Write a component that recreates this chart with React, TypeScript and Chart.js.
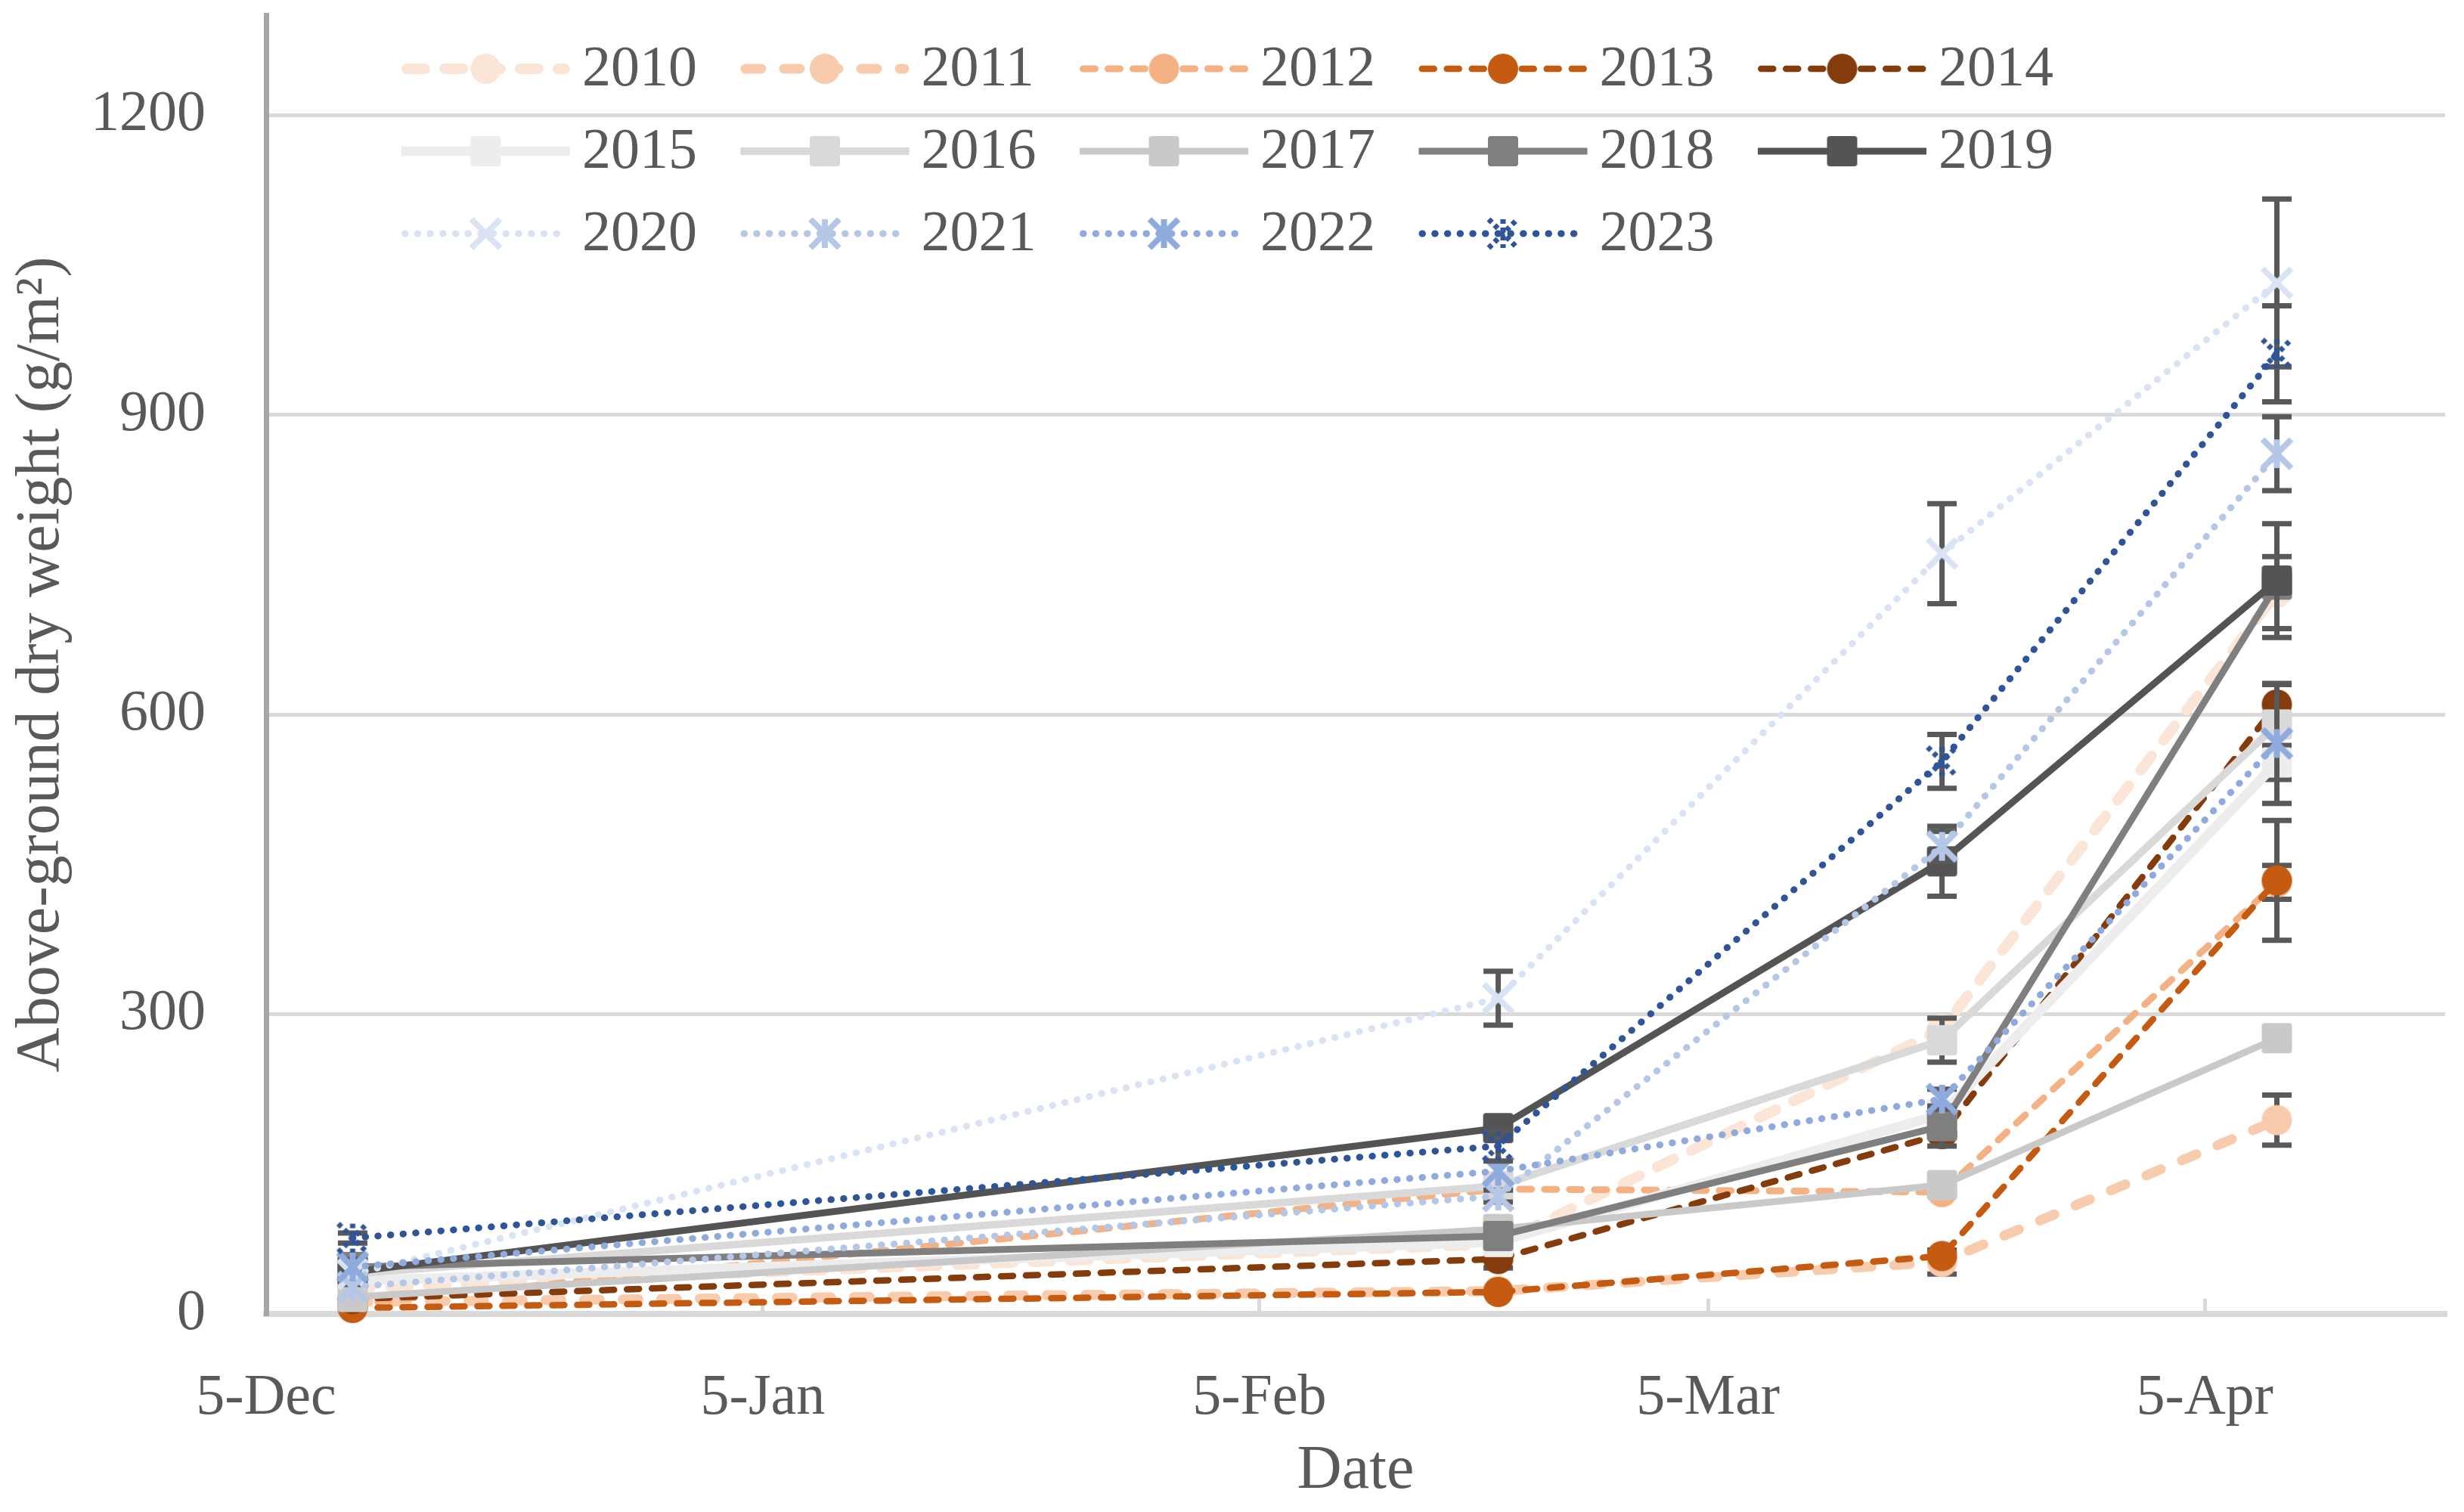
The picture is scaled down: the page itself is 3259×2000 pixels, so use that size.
import React, { useEffect, useRef } from 'react';
import { Chart, registerables } from 'chart.js';

Chart.register(...registerables);

// ---------- data ----------
const YEARS = ['2010', '2011', '2012', '2013', '2014', '2015', '2016', '2017', '2018', '2019', '2020', '2021', '2022', '2023'];

// x axis: days after 5-Dec
const TICK_DAYS = [0, 31, 62, 90, 121];
const TICK_LABELS = ['5-Dec', '5-Jan', '5-Feb', '5-Mar', '5-Apr'];
const SAMPLE_DAYS = [5.4, 76.9, 104.6, 125.5];
const Y_TICKS = [0, 300, 600, 900, 1200];

// above-ground dry weight (g/m2) at the four sampling dates
const W2010 = [26, 70, 285, 722];
const W2011 = [12, 23, 52, 194];
const W2012 = [10, 125, 122, 432];
const W2013 = [6, 22, 58, 434];
const W2014 = [15, 55, 180, 610];
const W2015 = [33, 72, 200, 552];
const W2016 = [40, 128, 274, 590];
const W2017 = [17, 85, 129, 276];
const W2018 = [47, 78, 188, 730];
const W2019 = [42, 186, 453, 734];
const W2020 = [40, 316, 761, 1032];
const W2021 = [27, 118, 468, 861];
const W2022 = [47, 143, 215, 571];
const W2023 = [76, 168, 553, 961];

// error bar half-lengths
const E2010 = [0, 0, 0, 36];
const E2011 = [0, 0, 12, 25];
const E2012 = [0, 0, 0, 17];
const E2013 = [0, 0, 0, 60];
const E2014 = [0, 9, 0, 20];
const E2015 = [0, 0, 0, 17];
const E2016 = [0, 0, 22, 0];
const E2017 = [0, 0, 0, 0];
const E2018 = [0, 0, 20, 0];
const E2019 = [0, 0, 35, 57];
const E2020 = [0, 27, 50, 84];
const E2021 = [0, 6, 15, 37];
const E2022 = [0, 0, 10, 60];
const E2023 = [5, 15, 27, 48];

const SERIES_VALUES = [W2010, W2011, W2012, W2013, W2014, W2015, W2016, W2017, W2018, W2019, W2020, W2021, W2022, W2023];
const SERIES_ERRORS = [E2010, E2011, E2012, E2013, E2014, E2015, E2016, E2017, E2018, E2019, E2020, E2021, E2022, E2023];

// ---------- styles ----------
type Marker = 'circle' | 'square' | 'x' | 'asterisk' | 'dotted';
interface SeriesStyle { color: string; width: number; dash: number[]; cap: CanvasLineCap; marker: Marker; }
const DOT = [0.5, 16.2];
const STYLES: SeriesStyle[] = [
  { color: '#FBE5D6', width: 14, dash: [24, 26], cap: 'round', marker: 'circle' },
  { color: '#F8CBAD', width: 13, dash: [21, 30], cap: 'round', marker: 'circle' },
  { color: '#F4B183', width: 9, dash: [16, 17], cap: 'round', marker: 'circle' },
  { color: '#C55A11', width: 8.5, dash: [16, 17], cap: 'round', marker: 'circle' },
  { color: '#843C0C', width: 8.5, dash: [16, 17], cap: 'round', marker: 'circle' },
  { color: '#EDEDED', width: 13, dash: [], cap: 'butt', marker: 'square' },
  { color: '#D9D9D9', width: 10, dash: [], cap: 'butt', marker: 'square' },
  { color: '#C9C9C9', width: 9, dash: [], cap: 'butt', marker: 'square' },
  { color: '#7F7F7F', width: 9, dash: [], cap: 'butt', marker: 'square' },
  { color: '#545454', width: 9, dash: [], cap: 'butt', marker: 'square' },
  { color: '#DAE3F3', width: 9, dash: DOT, cap: 'round', marker: 'x' },
  { color: '#B4C7E7', width: 9, dash: DOT, cap: 'round', marker: 'asterisk' },
  { color: '#8FAADC', width: 9, dash: DOT, cap: 'round', marker: 'asterisk' },
  { color: '#2F5597', width: 9, dash: DOT, cap: 'round', marker: 'dotted' },
];

const FONT_FAMILY = '"Liberation Serif", "DejaVu Serif", serif';
const TEXT_COLOR = '#595959';
const GRID_COLOR = '#D9D9D9';

function makeMarker(kind: Marker, color: string): HTMLCanvasElement {
  const c = document.createElement('canvas');
  c.width = 48;
  c.height = 48;
  const g = c.getContext('2d') as CanvasRenderingContext2D;
  g.translate(24, 24);
  g.fillStyle = color;
  g.strokeStyle = color;
  if (kind === 'circle') {
    g.beginPath();
    g.arc(0, 0, 20, 0, Math.PI * 2);
    g.fill();
  } else if (kind === 'square') {
    g.beginPath();
    if ((g as any).roundRect) (g as any).roundRect(-20, -20, 40, 40, 4);
    else g.rect(-20, -20, 40, 40);
    g.fill();
  } else {
    const r = 19;
    g.lineWidth = kind === 'dotted' ? 7 : 8;
    g.lineCap = 'butt';
    if (kind === 'dotted') g.setLineDash([6, 5]);
    g.beginPath();
    g.moveTo(-r, -r); g.lineTo(r, r);
    g.moveTo(-r, r); g.lineTo(r, -r);
    if (kind !== 'x') { g.moveTo(0, -r); g.lineTo(0, r); }
    g.stroke();
  }
  return c;
}

// legend layout (relative to the chart area)
const LEG_X0 = 179;
const LEG_PITCH = 448.5;
const LEG_Y0 = 71;
const LEG_ROW = 109;
const LEG_LINE = 223;
const LEG_TEXT_GAP = 239;

export default function App() {
  const ref = useRef<HTMLCanvasElement>(null);

  useEffect(() => {
    const markers = STYLES.map((s) => makeMarker(s.marker, s.color));

    const datasets = YEARS.map((year, i) => {
      const st = STYLES[i];
      return {
        label: year,
        data: SAMPLE_DAYS.map((d, j) => ({ x: d, y: SERIES_VALUES[i][j] })),
        borderColor: st.color,
        backgroundColor: st.color,
        borderWidth: st.width,
        borderDash: st.dash,
        borderCapStyle: st.cap,
        borderJoinStyle: 'round' as CanvasLineJoin,
        tension: 0,
        pointStyle: markers[i],
        pointRadius: 20,
        pointHoverRadius: 20,
        pointBorderWidth: 0,
        order: YEARS.length - 1 - i,
        clip: false as any,
      };
    });

    const errorBarPlugin = {
      id: 'errorBars',
      beforeDatasetDraw(chart: any, args: any) {
        const i = args.index;
        const meta = args.meta;
        const errs = SERIES_ERRORS[i];
        const vals = SERIES_VALUES[i];
        const ys = chart.scales.y;
        const ctx = chart.ctx as CanvasRenderingContext2D;
        ctx.save();
        ctx.strokeStyle = '#595959';
        ctx.lineWidth = 7;
        ctx.lineCap = 'butt';
        ctx.setLineDash([]);
        meta.data.forEach((pt: any, j: number) => {
          const e = errs[j];
          if (!e) return;
          const x = pt.x;
          const top = ys.getPixelForValue(vals[j] + e);
          const bot = ys.getPixelForValue(vals[j] - e);
          ctx.beginPath();
          ctx.moveTo(x, top); ctx.lineTo(x, bot);
          ctx.moveTo(x - 19.5, top); ctx.lineTo(x + 19.5, top);
          ctx.moveTo(x - 19.5, bot); ctx.lineTo(x + 19.5, bot);
          ctx.stroke();
        });
        ctx.restore();
      },
    };

    const legendPlugin = {
      id: 'excelLegend',
      afterDraw(chart: any) {
        const ctx = chart.ctx as CanvasRenderingContext2D;
        const area = chart.chartArea;
        YEARS.forEach((year, i) => {
          const st = STYLES[i];
          const col = i % 5;
          const row = Math.floor(i / 5);
          const x0 = area.left + LEG_X0 + col * LEG_PITCH;
          const yc = area.top + LEG_Y0 + row * LEG_ROW;
          ctx.save();
          ctx.strokeStyle = st.color;
          ctx.lineWidth = st.width;
          ctx.lineCap = st.cap;
          ctx.setLineDash(st.dash);
          ctx.beginPath();
          ctx.moveTo(x0 + (st.cap === 'round' ? st.width / 2 : 0), yc);
          ctx.lineTo(x0 + LEG_LINE - (st.cap === 'round' ? st.width / 2 : 0), yc);
          ctx.stroke();
          ctx.setLineDash([]);
          const m = markers[i];
          ctx.drawImage(m, x0 + LEG_LINE / 2 - m.width / 2, yc - m.height / 2);
          ctx.fillStyle = TEXT_COLOR;
          ctx.font = `76px ${FONT_FAMILY}`;
          ctx.textBaseline = 'alphabetic';
          ctx.textAlign = 'left';
          ctx.fillText(year, x0 + LEG_TEXT_GAP, yc + 22);
          ctx.restore();
        });
      },
    };

    const chart = new Chart(ref.current as HTMLCanvasElement, {
      type: 'line',
      data: { datasets: datasets as any },
      options: {
        responsive: false,
        animation: false,
        devicePixelRatio: 1,
        events: [],
        layout: { padding: { left: 0, right: 25, top: 19, bottom: 0 } },
        plugins: { legend: { display: false }, tooltip: { enabled: false } },
        scales: {
          x: {
            type: 'linear',
            min: 0,
            max: 136,
            afterBuildTicks: (scale: any) => {
              scale.ticks = TICK_DAYS.map((v) => ({ value: v }));
            },
            afterFit: (scale: any) => {
              scale.height = 262;
              scale.paddingLeft = 0;
              scale.paddingRight = 0;
            },
            ticks: {
              autoSkip: false,
              maxRotation: 0,
              minRotation: 0,
              padding: 86,
              color: TEXT_COLOR,
              font: { family: FONT_FAMILY, size: 76 },
              callback: (v: any) => {
                const k = TICK_DAYS.indexOf(Number(v));
                return k >= 0 ? TICK_LABELS[k] : '';
              },
            },
            grid: {
              display: true,
              drawOnChartArea: false,
              drawTicks: true,
              tickLength: -20,
              color: GRID_COLOR,
              lineWidth: 5,
            },
            border: { display: true, color: GRID_COLOR, width: 8 },
            title: {
              display: true,
              text: 'Date',
              color: TEXT_COLOR,
              font: { family: FONT_FAMILY, size: 82 },
              padding: { top: 0, bottom: 4 },
            },
          },
          y: {
            type: 'linear',
            min: 0,
            max: 1300,
            afterBuildTicks: (scale: any) => {
              scale.ticks = Y_TICKS.map((v) => ({ value: v }));
            },
            afterFit: (scale: any) => {
              scale.width = 352;
              scale.paddingTop = 0;
              scale.paddingBottom = 0;
            },
            ticks: {
              padding: 80,
              color: TEXT_COLOR,
              font: { family: FONT_FAMILY, size: 76 },
              callback: (v: any) => String(v),
            },
            grid: {
              display: true,
              drawTicks: false,
              color: GRID_COLOR,
              lineWidth: 5,
            },
            border: { display: true, color: '#A6A6A6', width: 7 },
            title: {
              display: true,
              text: 'Above-ground dry weight (g/m²)',
              color: TEXT_COLOR,
              font: { family: FONT_FAMILY, size: 82 },
              padding: { top: 6, bottom: 0 },
            },
          },
        },
      } as any,
      plugins: [errorBarPlugin, legendPlugin],
    });

    return () => chart.destroy();
  }, []);

  return (
    <div style={{ position: 'fixed', left: 0, top: 0, width: 3259, height: 2000, background: '#fff' }}>
      <canvas ref={ref} width={3259} height={2000} style={{ display: 'block', width: 3259, height: 2000 }} />
    </div>
  );
}
